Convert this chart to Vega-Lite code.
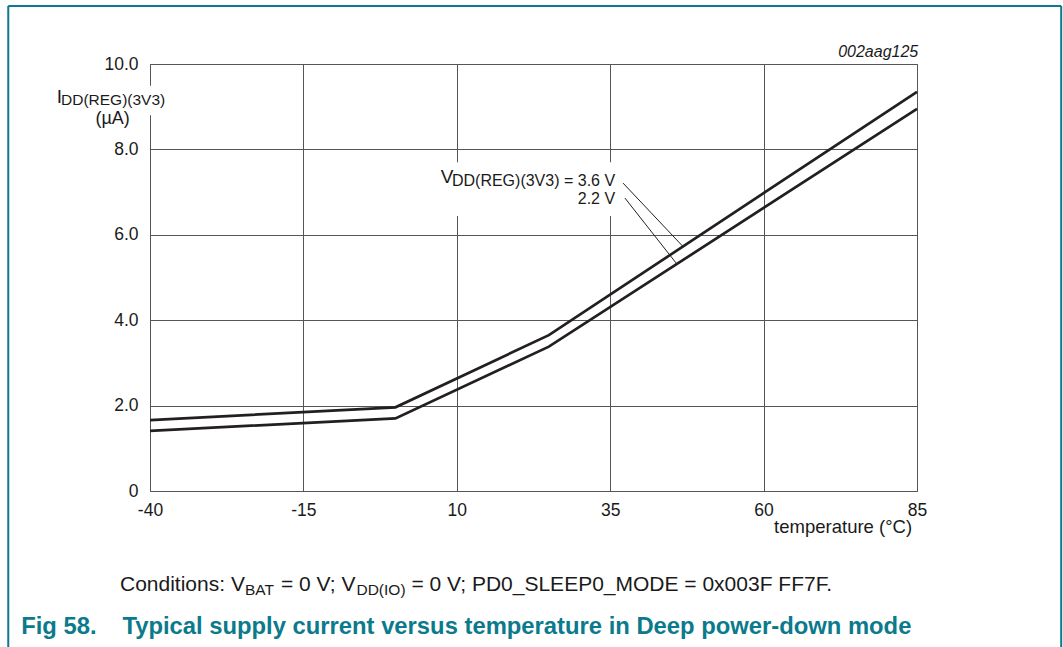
{
  "$schema": "https://vega.github.io/schema/vega-lite/v6.json",
  "width": 767,
  "height": 427,
  "autosize": {"type": "none"},
  "padding": {"left": 150, "top": 64, "right": 146, "bottom": 156},
  "background": "white",
  "config": {
    "font": "Liberation Sans",
    "view": {"stroke": "#5a5a5a", "strokeWidth": 1}
  },
  "datasets": {
    "curves": [
      {"series": "3.6 V", "temp": -40, "current": 1.66},
      {"series": "3.6 V", "temp": 0, "current": 1.96},
      {"series": "3.6 V", "temp": 25, "current": 3.65},
      {"series": "3.6 V", "temp": 85, "current": 9.35},
      {"series": "2.2 V", "temp": -40, "current": 1.41},
      {"series": "2.2 V", "temp": 0, "current": 1.7},
      {"series": "2.2 V", "temp": 25, "current": 3.38},
      {"series": "2.2 V", "temp": 85, "current": 8.95}
    ],
    "one": [{}]
  },
  "layer": [
    {
      "data": {"name": "curves"},
      "mark": {"type": "line", "color": "#231f20", "strokeWidth": 2.7, "clip": false},
      "encoding": {
        "x": {
          "field": "temp", "type": "quantitative",
          "scale": {"domain": [-40, 85], "nice": false, "zero": false},
          "axis": {
            "values": [-40, -15, 10, 35, 60, 85], "title": null, "grid": true,
            "gridColor": "#555555", "gridWidth": 1, "gridOpacity": 1,
            "ticks": false, "domain": false, "labelFontSize": 17.5,
            "labelColor": "#1a1a1a", "labelPadding": 10, "labelFlush": false,
            "labelExpr": "toString(datum.value)"
          }
        },
        "y": {
          "field": "current", "type": "quantitative",
          "scale": {"domain": [0, 10], "nice": false},
          "axis": {
            "values": [0, 2, 4, 6, 8, 10], "title": null, "grid": true,
            "gridColor": "#555555", "gridWidth": 1, "gridOpacity": 1,
            "ticks": false, "domain": false, "labelFontSize": 17.5,
            "labelColor": "#1a1a1a", "labelPadding": 12,
            "labelExpr": "datum.value == 0 ? '0' : format(datum.value, '.1f')"
          }
        },
        "detail": {"field": "series"}
      }
    },
    {
      "data": {"name": "one"},
      "mark": {"type": "rect", "color": "white"},
      "encoding": {"x": {"datum": -41}, "x2": {"datum": -39}, "y": {"datum": 9.49}, "y2": {"datum": 8.8}}
    },
    {
      "data": {"name": "one"},
      "mark": {"type": "rect", "color": "white"},
      "encoding": {"x": {"datum": 7}, "x2": {"datum": 37}, "y": {"datum": 7.7}, "y2": {"datum": 6.44}}
    },
    {
      "data": {"name": "one"},
      "mark": {"type": "rule", "color": "#231f20", "strokeWidth": 1},
      "encoding": {"x": {"datum": 37.1}, "y": {"datum": 7.21}, "x2": {"datum": 46.9}, "y2": {"datum": 5.72}}
    },
    {
      "data": {"name": "one"},
      "mark": {"type": "rule", "color": "#231f20", "strokeWidth": 1},
      "encoding": {"x": {"datum": 37.4}, "y": {"datum": 6.86}, "x2": {"datum": 45.9}, "y2": {"datum": 5.31}}
    },
    {
      "data": {"name": "one"},
      "mark": {"type": "text", "text": "V", "fontSize": 19, "align": "left", "baseline": "alphabetic", "color": "#1a1a1a"},
      "encoding": {"x": {"datum": 7.4}, "y": {"datum": 7.21}}
    },
    {
      "data": {"name": "one"},
      "mark": {"type": "text", "text": "DD(REG)(3V3) = 3.6 V", "fontSize": 16, "align": "right", "baseline": "alphabetic", "color": "#1a1a1a"},
      "encoding": {"x": {"datum": 35.8}, "y": {"datum": 7.14}}
    },
    {
      "data": {"name": "one"},
      "mark": {"type": "text", "text": "2.2 V", "fontSize": 16, "align": "right", "baseline": "alphabetic", "color": "#1a1a1a"},
      "encoding": {"x": {"datum": 35.8}, "y": {"datum": 6.72}}
    },
    {
      "data": {"name": "one"},
      "mark": {"type": "text", "text": "I", "fontSize": 19, "align": "left", "baseline": "alphabetic", "color": "#1a1a1a"},
      "encoding": {"x": {"datum": -55.2}, "y": {"datum": 9.09}}
    },
    {
      "data": {"name": "one"},
      "mark": {"type": "text", "text": "DD(REG)(3V3)", "fontSize": 15.5, "align": "left", "baseline": "alphabetic", "color": "#1a1a1a"},
      "encoding": {"x": {"datum": -54.5}, "y": {"datum": 9.04}}
    },
    {
      "data": {"name": "one"},
      "mark": {"type": "text", "text": "(µA)", "fontSize": 18, "align": "center", "baseline": "alphabetic", "color": "#1a1a1a"},
      "encoding": {"x": {"datum": -46.1}, "y": {"datum": 8.6}}
    },
    {
      "data": {"name": "one"},
      "mark": {"type": "text", "text": "002aag125", "fontSize": 16, "fontStyle": "italic", "align": "right", "baseline": "alphabetic", "color": "#1a1a1a"},
      "encoding": {"x": {"datum": 85.2}, "y": {"datum": 10.16}}
    },
    {
      "data": {"name": "one"},
      "mark": {"type": "text", "text": "temperature (°C)", "fontSize": 18.5, "align": "right", "baseline": "alphabetic", "color": "#1a1a1a"},
      "encoding": {"x": {"datum": 84.2}, "y": {"datum": -0.98}}
    },
    {
      "data": {"name": "one"},
      "mark": {"type": "text", "text": "Conditions: V", "fontSize": 21, "align": "left", "baseline": "alphabetic", "color": "#1a1a1a"},
      "encoding": {"x": {"datum": -44.89}, "y": {"datum": -2.34}}
    },
    {
      "data": {"name": "one"},
      "mark": {"type": "text", "text": "BAT", "fontSize": 15.5, "align": "left", "baseline": "alphabetic", "color": "#1a1a1a"},
      "encoding": {"x": {"datum": -24.52}, "y": {"datum": -2.44}}
    },
    {
      "data": {"name": "one"},
      "mark": {"type": "text", "text": "= 0 V; V", "fontSize": 21, "align": "left", "baseline": "alphabetic", "color": "#1a1a1a"},
      "encoding": {"x": {"datum": -18.65}, "y": {"datum": -2.34}}
    },
    {
      "data": {"name": "one"},
      "mark": {"type": "text", "text": "DD(IO)", "fontSize": 15.5, "align": "left", "baseline": "alphabetic", "color": "#1a1a1a"},
      "encoding": {"x": {"datum": -6.35}, "y": {"datum": -2.44}}
    },
    {
      "data": {"name": "one"},
      "mark": {"type": "text", "text": "= 0 V; PD0_SLEEP0_MODE = 0x003F FF7F.", "fontSize": 21, "align": "left", "baseline": "alphabetic", "color": "#1a1a1a"},
      "encoding": {"x": {"datum": 2.6}, "y": {"datum": -2.34}}
    },
    {
      "data": {"name": "one"},
      "mark": {"type": "text", "text": "Fig 58.", "fontSize": 23.8, "fontWeight": "bold", "align": "left", "baseline": "alphabetic", "color": "#0a7a8c"},
      "encoding": {"x": {"datum": -61.0}, "y": {"datum": -3.35}}
    },
    {
      "data": {"name": "one"},
      "mark": {"type": "text", "text": "Typical supply current versus temperature in Deep power-down mode", "fontSize": 23.8, "fontWeight": "bold", "align": "left", "baseline": "alphabetic", "color": "#0a7a8c"},
      "encoding": {"x": {"datum": -44.5}, "y": {"datum": -3.35}}
    },
    {
      "data": {"name": "one"},
      "mark": {"type": "rule", "color": "#0a7a8c", "strokeWidth": 2},
      "encoding": {"x": {"datum": -63.1}, "x2": {"datum": 108.5}, "y": {"datum": 11.36}}
    },
    {
      "data": {"name": "one"},
      "mark": {"type": "rule", "color": "#0a7a8c", "strokeWidth": 2},
      "encoding": {"x": {"datum": -63.1}, "y": {"datum": 11.36}, "y2": {"datum": -3.7}}
    },
    {
      "data": {"name": "one"},
      "mark": {"type": "rule", "color": "#0a7a8c", "strokeWidth": 2},
      "encoding": {"x": {"datum": 108.5}, "y": {"datum": 11.36}, "y2": {"datum": -3.7}}
    }
  ]
}
